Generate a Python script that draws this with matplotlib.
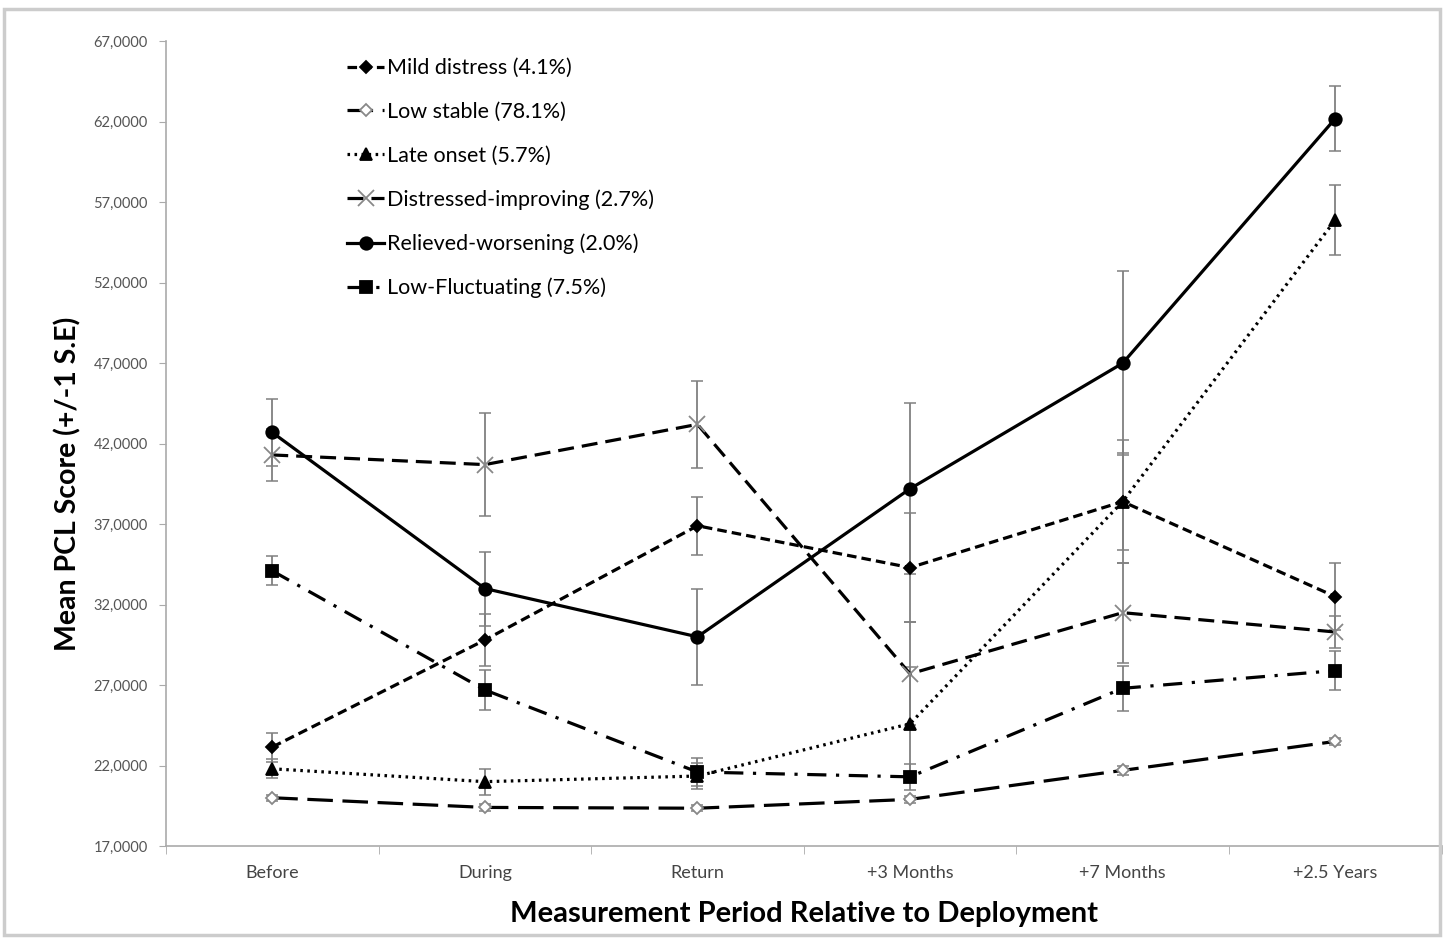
"""Mean PCL score trajectories across deployment periods."""
import numpy as np
import matplotlib
matplotlib.use("Agg")
import matplotlib.pyplot as plt
from matplotlib.patches import Rectangle
from matplotlib.ticker import FixedLocator, FuncFormatter

plt.rcParams["font.family"] = ["Lato", "DejaVu Sans"]

periods = ["Before", "During", "Return", "+3 Months", "+7 Months", "+2.5 Years"]

mild = [23.15, 29.8, 36.9, 34.3, 38.4, 32.5]
mild_se = [0.9, 1.6, 1.8, 3.4, 3.0, 2.1]

low_stable = [20.0, 19.4, 19.35, 19.9, 21.7, 23.5]
low_stable_se = [0.2, 0.2, 0.2, 0.2, 0.3, 0.2]

late = [21.8, 21.0, 21.35, 24.6, 38.4, 55.9]
late_se = [0.6, 0.8, 0.8, 3.5, 3.8, 2.15]

distressed = [41.3, 40.7, 43.2, 27.7, 31.5, 30.3]
distressed_se = [1.6, 3.2, 2.7, 3.2, 3.1, 1.0]

relieved = [42.7, 33.0, 30.0, 39.2, 47.0, 62.2]
relieved_se = [2.1, 2.3, 3.0, 5.3, 5.7, 2.0]

low_fluct = [34.1, 26.7, 21.6, 21.3, 26.8, 27.9]
low_fluct_se = [0.9, 1.25, 0.9, 0.8, 1.4, 1.2]

series = [
    ("Mild distress (4.1%)", mild, mild_se, (0, (3, 1.6)), "D", "black", "black", 6),
    ("Low stable (78.1%)", low_stable, low_stable_se, (0, (8, 3)), "D", "white", "#888888", 6),
    ("Late onset (5.7%)", late, late_se, (0, (0.8, 1.4)), "^", "black", "black", 9),
    ("Distressed-improving (2.7%)", distressed, distressed_se, (0, (5, 2.5)), "x", "#888888", "#888888", 11),
    ("Relieved-worsening (2.0%)", relieved, relieved_se, "-", "o", "black", "black", 9),
    ("Low-Fluctuating (7.5%)", low_fluct, low_fluct_se, (0, (6, 3, 1, 3)), "s", "black", "black", 8),
]

fig = plt.figure(figsize=(14.43, 9.39), dpi=100)
ax = fig.add_axes([0.115, 0.099, 0.884, 0.857])

x = np.arange(len(periods))
for label, vals, se, ls, mk, fc, ec, ms in series:
    ax.errorbar(x, vals, yerr=se, fmt="none", ecolor="#808080", elinewidth=1.3,
                capsize=4, capthick=1.1, zorder=2)
    ax.plot(x, vals, linestyle=ls, color="black", linewidth=2.3, marker=mk,
            markerfacecolor=fc, markeredgecolor=ec, markersize=ms,
            markeredgewidth=1.3, label=label, zorder=3)

ax.set_xlim(-0.5, 5.5)
ax.set_ylim(17, 67)
ax.set_yticks(np.arange(17, 68, 5))
ax.yaxis.set_major_formatter(FuncFormatter(lambda v, p: f"{v:.4f}".replace(".", ",")))
ax.tick_params(axis="y", labelsize=10.5, labelcolor="#555555", color="#aaaaaa",
               length=5, direction="out", pad=8)

ax.set_xticks(x)
ax.set_xticklabels(periods)
ax.tick_params(axis="x", which="major", length=0, labelsize=13,
               labelcolor="#444444", pad=14)
ax.xaxis.set_minor_locator(FixedLocator(np.arange(-0.5, 6, 1.0)))
ax.tick_params(axis="x", which="minor", length=6, color="#aaaaaa", direction="out")

for s in ["top", "right"]:
    ax.spines[s].set_visible(False)
for s in ["left", "bottom"]:
    ax.spines[s].set_color("#aaaaaa")
    ax.spines[s].set_linewidth(1.2)

ax.set_xlabel("Measurement Period Relative to Deployment", fontsize=21,
              fontweight="bold", labelpad=14)
ax.set_ylabel("Mean PCL Score (+/-1 S.E)", fontsize=20.5, fontweight="bold")
ax.yaxis.set_label_coords(-0.066, 0.45)

ax.legend(loc="upper left", bbox_to_anchor=(0.127, 1.003), frameon=False,
          fontsize=15.5, handlelength=1.7, handletextpad=0.15,
          labelspacing=1.1)

fig.patches.append(Rectangle((0.003, 0.004), 0.995, 0.986, transform=fig.transFigure,
                             fill=False, edgecolor="#cccccc", linewidth=2.5))

fig.savefig("out.png", dpi=100)
